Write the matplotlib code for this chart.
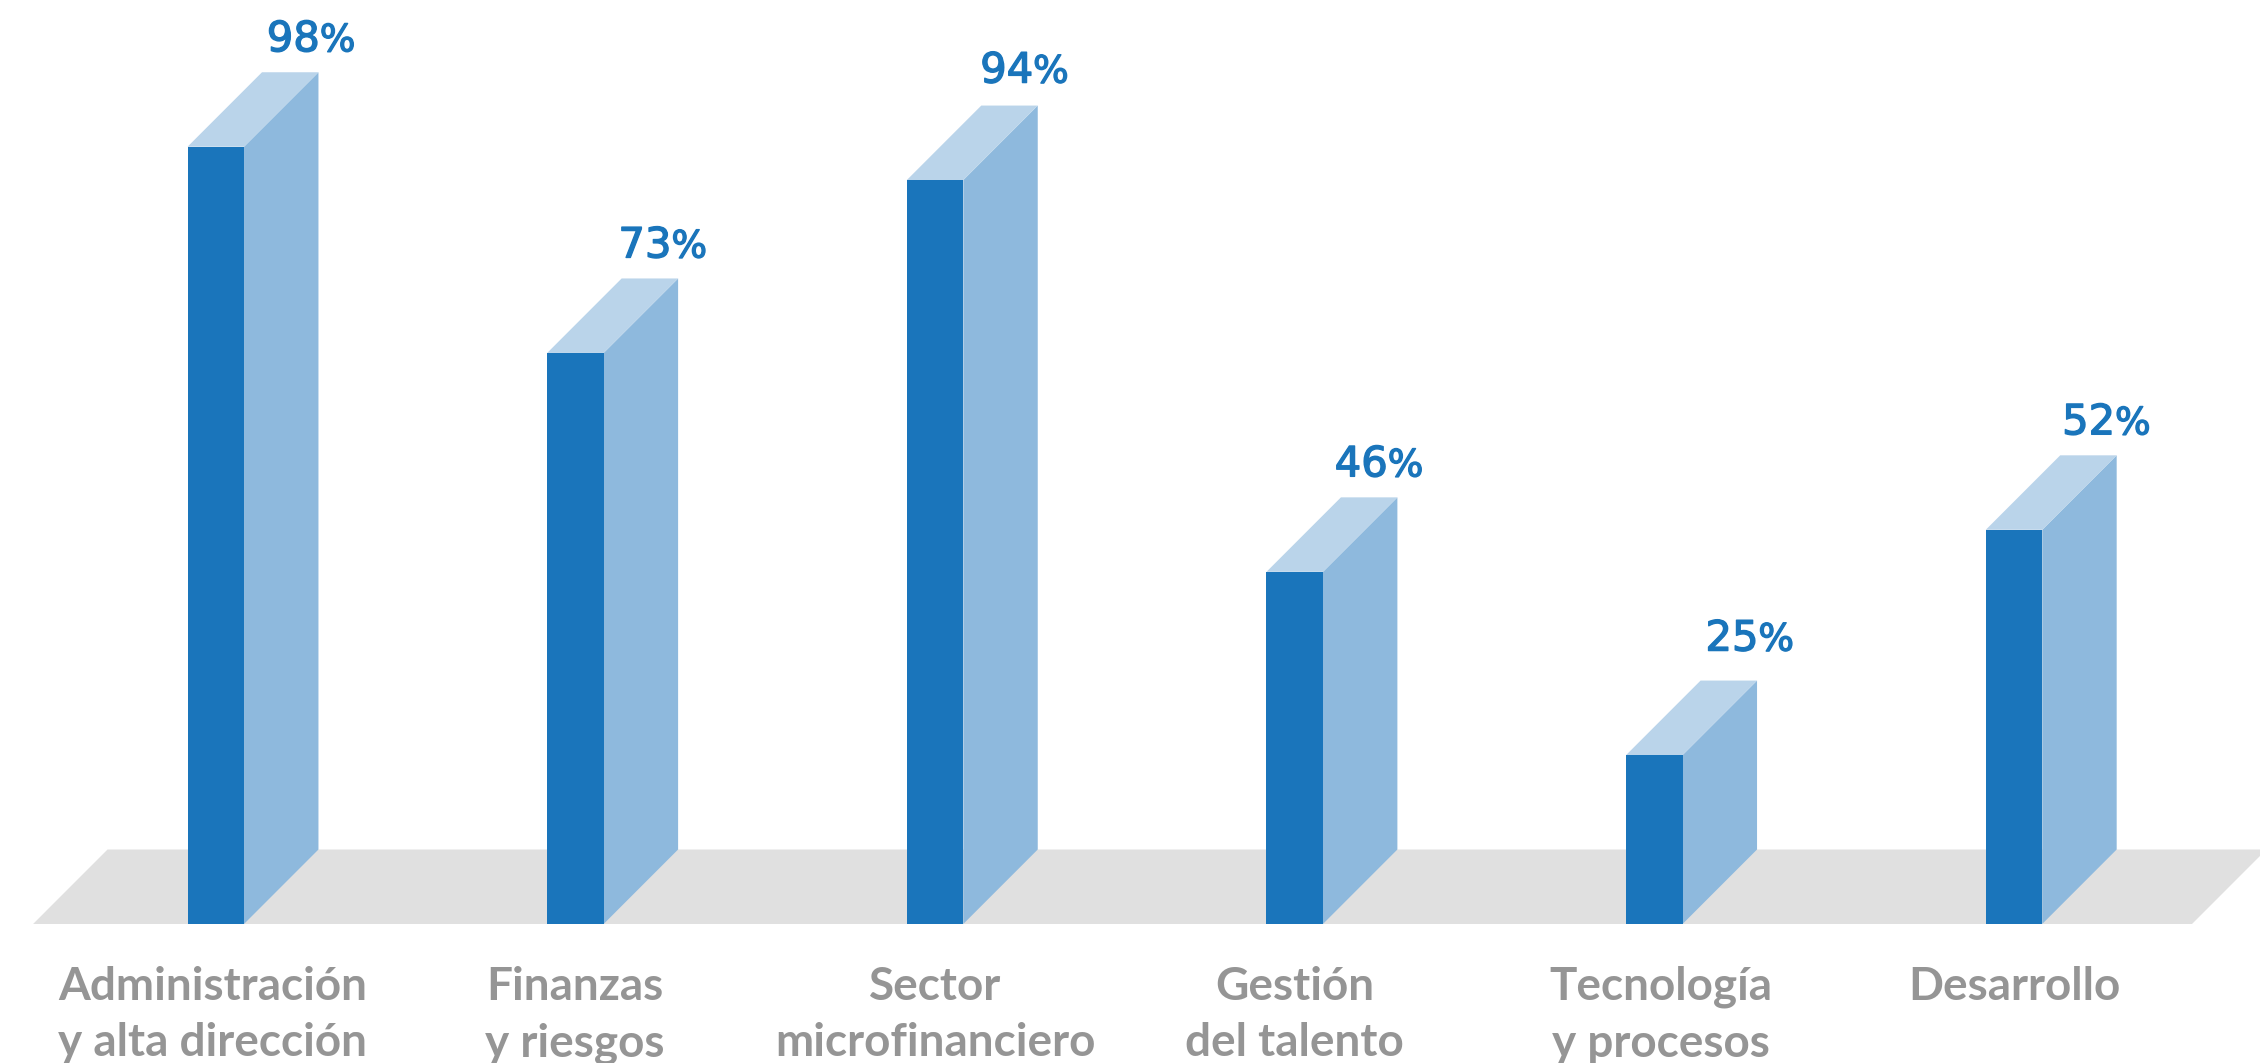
import matplotlib
matplotlib.use('Agg')
import matplotlib.pyplot as plt
import matplotlib.patheffects as pe

categorias = ['Administración\ny alta dirección', 'Finanzas\ny riesgos', 'Sector\nmicrofinanciero',
              'Gestión\ndel talento', 'Tecnología\ny procesos', 'Desarrollo']
etiquetas = [98, 73, 94, 46, 25, 52]
# the drawn bars are not quite proportional to their labels, these are read off the picture
alturas = [98.0, 72.0, 93.8, 44.4, 21.3, 49.7]

azul = '#1a75bb'
azul_lado = '#8eb9dd'
azul_tapa = '#bad4ea'
gris_piso = '#e0e0e0'
gris_texto = '#959595'

ancho = 0.157
dx = 0.207
dy = 9.39

# the labels are not placed evenly in the original, small nudges in pixels
ajuste_x = [0, -8, -6, -11, 0, -3]
ajuste_y = [0, 0, 2, 0, 9, 0]
ajuste_cat = [-3, -1, 0, 0, 7, 0]

fig = plt.figure(figsize=(22.6, 10.63), dpi=100)
ax = fig.add_axes([0, 0, 1, 1])
ax.set_xlim(-0.6, 5.684)
ax.set_ylim(-17.53, 116.5)
ax.axis('off')

# floor
x0, x1 = -0.508, 5.495
ax.fill([x0, x1, x1 + dx, x0 + dx], [0, 0, dy, dy], color=gris_piso, lw=0, zorder=1)

trazo = [pe.withStroke(linewidth=1.0, foreground=azul)]

for i, h in enumerate(alturas):
    izq = i - ancho / 2
    der = i + ancho / 2
    ax.bar(i, h, width=ancho, color=azul, lw=0, zorder=3)
    # side and top faces
    ax.fill([der, der + dx, der + dx, der], [0, dy, h + dy, h], color=azul_lado, lw=0, zorder=2)
    ax.fill([izq, der, der + dx, izq + dx], [h, h, h + dy, h + dy], color=azul_tapa, lw=0, zorder=2)

    pos = (104 + ajuste_x[i], 21 + ajuste_y[i])
    ax.annotate(str(etiquetas[i]), (i, h + dy), xytext=pos, textcoords='offset pixels',
                ha='right', va='baseline', color=azul, fontsize=30, family='DejaVu Sans',
                path_effects=trazo)
    ax.annotate('%', (i, h + dy), xytext=pos, textcoords='offset pixels',
                ha='left', va='baseline', color=azul, fontsize=27, family='DejaVu Sans',
                path_effects=trazo)

    ax.annotate(categorias[i], (i, 0), xytext=(ajuste_cat[i], -42), textcoords='offset pixels',
                ha='center', va='top', color=gris_texto, fontsize=33, family='Lato', weight='bold',
                linespacing=1.42)

fig.savefig('out.png', dpi=100)
